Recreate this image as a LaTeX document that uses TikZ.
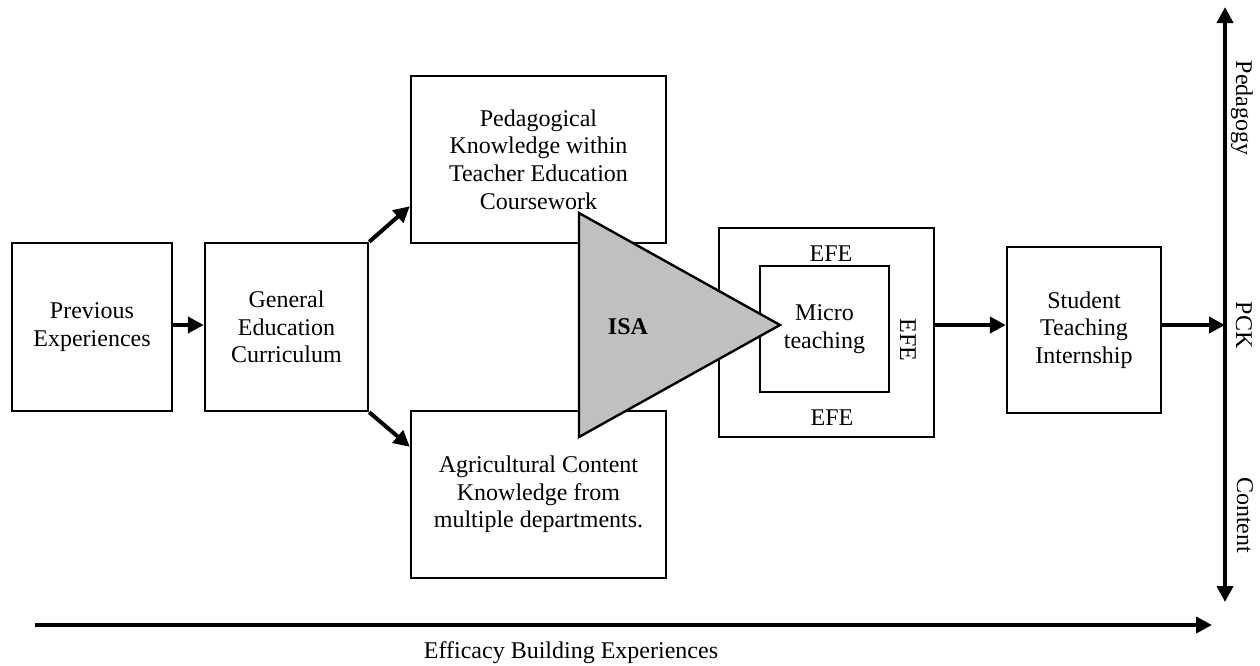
\documentclass[tikz,border=0pt]{standalone}
\usepackage{fontspec}
\setmainfont{Liberation Serif}
\usetikzlibrary{arrows.meta}
\definecolor{isagray}{RGB}{192,192,192}
\begin{document}
\begin{tikzpicture}[x=0.5pt,y=-0.5pt,
  box/.style={draw,line width=1.2pt,align=center,inner sep=0pt,font=\fontsize{12}{13.8}\selectfont},
  conn/.style={line width=2pt,-{Triangle[length=8pt,width=8pt]}},
  lbl/.style={inner sep=0pt,font=\fontsize{12}{13.8}\selectfont}]
\useasboundingbox (0,0) rectangle (1260,665);
\coordinate (mid) at (0,325);
% boxes
\node[box,minimum width=80pt,minimum height=84pt] (PE) at (92,327) {Previous\\Experiences};
\node[box,minimum width=81.5pt,minimum height=84pt] (GE) at (286.5,327) {General\\Education\\Curriculum};
\node[box,minimum width=127.5pt,minimum height=83.5pt] (PK) at (538.5,159.5) {Pedagogical\\Knowledge within\\Teacher Education\\Coursework};
\node[box,minimum width=127.5pt,minimum height=83.5pt] (AK) at (538.5,494.5) {Agricultural Content\\Knowledge from\\multiple departments.};
\node[box,minimum width=107.5pt,minimum height=104.5pt] (EO) at (826.5,332.5) {};
\node[box,minimum width=64.5pt,minimum height=63pt] (EI) at (824.5,329) {Micro\\teaching};
\node[box,minimum width=77pt,minimum height=83pt] (ST) at (1084,330) {Student\\Teaching\\Internship};
% EFE labels
\node[lbl,anchor=base] (efeT) at (831,261) {EFE};
\node[lbl,anchor=base] (efeB) at (832,425) {EFE};
\node[lbl,anchor=base,rotate=-90] (efeR) at (900,340) {EFE};
% axis
\coordinate (atop) at (1225,7);
\coordinate (abot) at (1225,602);
\draw[line width=2pt,{Triangle[length=8pt,width=8pt]}-{Triangle[length=8pt,width=8pt]}] (abot) -- (atop);
\node[lbl,anchor=base,rotate=-90] (ped) at (1236,108) {Pedagogy};
\node[lbl,anchor=base,rotate=-90] (pck) at (1236,325) {PCK};
\node[lbl,anchor=base,rotate=-90] (cont) at (1237,515) {Content};
% bottom axis
\coordinate (hs) at (35,625);
\coordinate (he) at (1212,625);
\draw[conn] (hs) -- (he);
\node[lbl,anchor=base] (ebe) at (571,658) {Efficacy Building Experiences};
% connectors
\draw[conn] (PE.east |- mid) -- (GE.west |- mid);
\draw[conn] (GE.north east) -- ([yshift=19pt]PK.south west);
\draw[conn] (GE.south east) -- ([yshift=-18.5pt]AK.north west);
\draw[conn] (EO.east |- mid) -- (ST.west |- mid);
\draw[conn] (ST.east |- mid) -- (atop |- mid);
% ISA triangle
\draw[line width=1.2pt,fill=isagray,line join=miter] (579,213) -- (780,325) -- (579,437) -- cycle;
\node[lbl,anchor=base] (isa) at (628,334) {\bfseries ISA};
\end{tikzpicture}
\end{document}
